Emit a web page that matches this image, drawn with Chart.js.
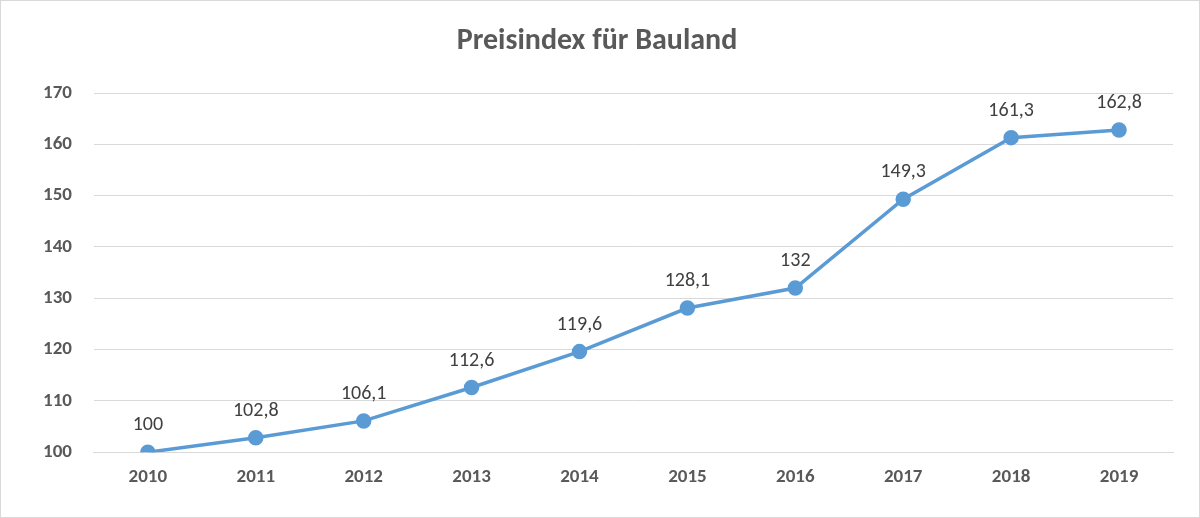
<!DOCTYPE html>
<html><head><meta charset="utf-8">
<script src="https://cdn.jsdelivr.net/npm/chart.js@4/dist/chart.umd.min.js"></script>
<style>html,body{margin:0;padding:0;background:#fff}#w{position:absolute;left:0;top:0;width:1198px;height:516px;border:1px solid #d9d9d9}</style>
</head><body><div id="w"><canvas id="c"></canvas></div>
<script>
const years = ['2010','2011','2012','2013','2014','2015','2016','2017','2018','2019'];
const indexValues = [100,102.8,106.1,112.6,119.6,128.1,132,149.3,161.3,162.8];
const labelText = ['100','102,8','106,1','112,6','119,6','128,1','132','149,3','161,3','162,8'];
const FF = 'Calibri, Carlito, "Liberation Sans", Arial, sans-serif';
const labelsPlugin = {id:'lbl',afterDatasetsDraw(ch){
  const ctx=ch.ctx, meta=ch.getDatasetMeta(0);
  ctx.save();ctx.font='20px '+FF;ctx.fillStyle='#404040';ctx.textAlign='center';ctx.textBaseline='bottom';
  meta.data.forEach((p,i)=>ctx.fillText(labelText[i],p.x,p.y-17));ctx.restore();}};
new Chart(document.getElementById('c'),{type:'line',
 data:{labels:years,datasets:[{data:indexValues,borderColor:'#5b9bd5',backgroundColor:'#5b9bd5',borderWidth:3.5,pointRadius:6,pointHoverRadius:6,tension:0}]},
 options:{responsive:true,maintainAspectRatio:false,animation:false,
  layout:{padding:{left:20,right:26,top:0,bottom:14}},
  plugins:{legend:{display:false},tooltip:{enabled:false},
   title:{display:true,text:'Preisindex für Bauland',color:'#595959',font:{size:30,weight:'bold',family:FF},padding:{top:22,bottom:34}}},
  scales:{
   x:{offset:true,grid:{display:false,drawTicks:false},border:{color:'#d9d9d9'},ticks:{color:'#595959',padding:14,font:{size:19,weight:'bold',family:FF}}},
   y:{min:100,max:170,grid:{color:'#d9d9d9',drawTicks:false},border:{display:false},ticks:{stepSize:10,color:'#595959',padding:22,font:{size:19,weight:'bold',family:FF}}}
  }},plugins:[labelsPlugin]});
</script></body></html>
